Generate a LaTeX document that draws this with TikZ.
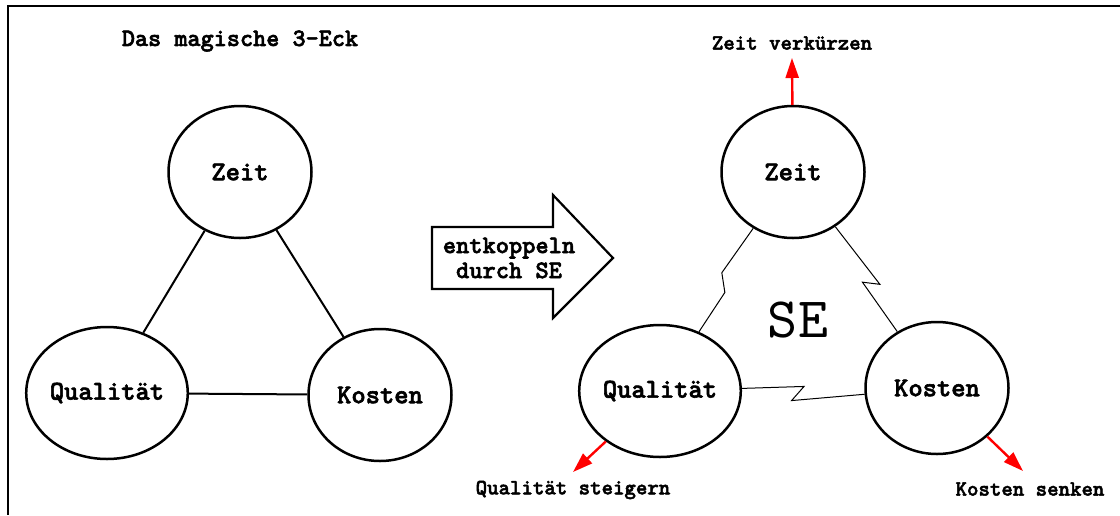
\documentclass[tikz,border=0pt]{standalone}
\usepackage{fontspec}
\setmonofont{lmmono10-regular}[Extension=.otf, BoldFont=lmmonolt10-bold, BoldFeatures={FakeBold=2.2}]
\usepackage{tikz}
\usetikzlibrary{shapes.geometric, arrows.meta, calc}
\definecolor{goalred}{RGB}{255, 0, 0}

\tikzset{
	factor/.style={draw, ellipse, line width=1.25pt, minimum width=71.5pt, minimum height=66pt,
		inner sep=0pt, font=\ttfamily\bfseries\fontsize{13.6}{15}\selectfont},
	tie/.style={line width=1pt},
	loosetie/.style={line width=0.5pt},
	goal/.style={goalred, line width=1.2pt, -{Triangle[length=10pt, width=6.5pt]}},
	goaltext/.style={font=\ttfamily\bfseries\fontsize{10.9}{12}\selectfont, inner sep=0pt},
}

\begin{document}
\begin{tikzpicture}[x=0.5pt, y=-0.5pt]
			\useasboundingbox (0,0) rectangle (1120,515);

			% frame (top and left edge)
			\draw[line width=1.2pt] (1120,6) -- (8,6) -- (8,515);

			% --- coupled triangle ---
			\node[font=\ttfamily\bfseries\fontsize{12.5}{14}\selectfont, inner sep=0pt] (title) at (240,41) {Das magische 3-Eck};
			\node[factor] (zeitL) at (240,172) {Zeit};
			\node[factor] (qualL) at (107,393) {Qualität};
			\node[factor] (kostL) at (380,395) {Kosten};
			\draw[tie] (zeitL) -- (qualL);
			\draw[tie] (zeitL) -- (kostL);
			\draw[tie] (qualL) -- (kostL);

			% --- block arrow ---
			\draw[line width=1.1pt] (432,227) -- (553,227) -- (553,195) -- (613,258)
				-- (553,318) -- (553,289) -- (432,289) -- cycle;
			\node[align=center, inner sep=0pt, font=\ttfamily\bfseries\fontsize{12.6}{12.5}\selectfont] (decouple) at (509,258) {entkoppeln\\durch SE};

			% --- decoupled triangle ---
			\node[factor] (zeitR) at (793,172) {Zeit};
			\node[factor] (qualR) at (660,391) {Qualität};
			\node[factor] (kostR) at (937,388) {Kosten};
			\node[font=\ttfamily\fontsize{28.6}{30}\selectfont, inner sep=0pt] (se) at (798,320) {SE};

			\draw[loosetie] (zeitR) -- ($(zeitR)!0.46!(qualR)+(-10,0)$) -- ($(zeitR)!0.55!(qualR)+(5,0)$) -- (qualR);
			\draw[loosetie] (zeitR) -- ($(zeitR)!0.52!(kostR)+(12,0)$) -- ($(zeitR)!0.51!(kostR)+(-4,0)$) -- (kostR);
			\draw[loosetie] (qualR) -- ($(qualR)!0.52!(kostR)+(0,-3)$) -- ($(qualR)!0.475!(kostR)+(0,11)$) -- (kostR);

			% --- goals ---
			\coordinate (zeitTip) at (792,58);
			\coordinate (qualTip) at (573,472);
			\coordinate (kostTip) at (1023,471);
			\draw[goal] (zeitR) -- (zeitTip);
			\draw[goal] (qualR) -- (qualTip);
			\draw[goal] (kostR) -- (kostTip);

			\node[goaltext] (zeitGoal) at (792,43) {Zeit verkürzen};
			\node[goaltext] (qualGoal) at (573,490) {Qualität steigern};
			\node[goaltext] (kostGoal) at (1030,489) {Kosten senken};

		\end{tikzpicture}
\end{document}
